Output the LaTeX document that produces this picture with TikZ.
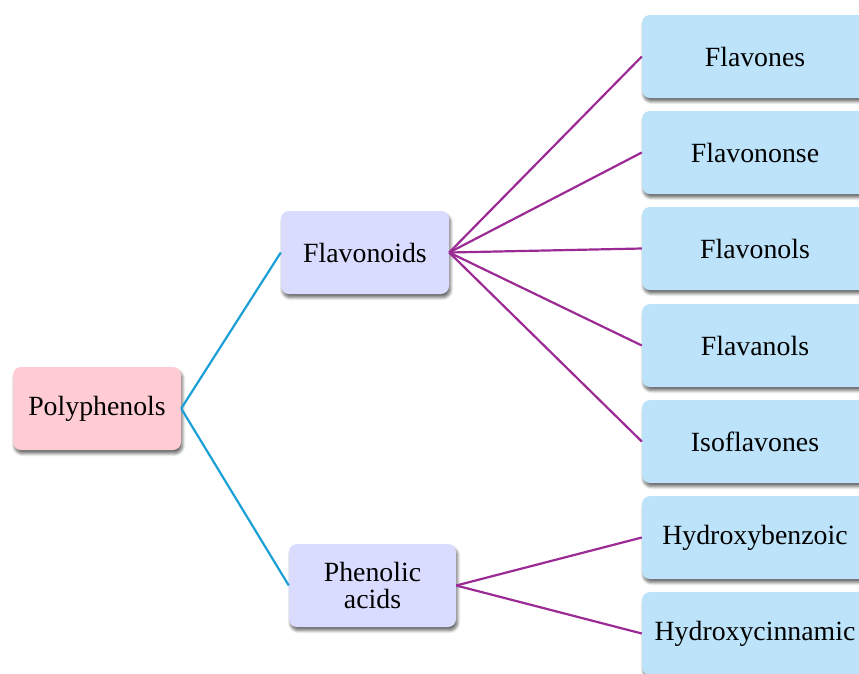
\documentclass[tikz,border=0pt]{standalone}
\usepackage{fontspec}
\setmainfont{Liberation Serif}
\usetikzlibrary{shadows.blur}
\definecolor{pinkfill}{HTML}{FFCCD3}
\definecolor{lavfill}{HTML}{D9DBFF}
\definecolor{bluefill}{HTML}{BDE3FB}
\definecolor{blueline}{HTML}{1A9FD6}
\definecolor{purpline}{HTML}{9B2A95}
\tikzset{
  box/.style={draw=none, rounded corners=8pt, minimum height=83pt, align=center,
    font=\fontsize{27.8}{30}\selectfont, inner sep=0pt,
    blur shadow={shadow xshift=1.5pt, shadow yshift=-3.5pt, shadow blur radius=3pt,
      shadow blur steps=6, shadow opacity=60}},
  rootbox/.style={box, fill=pinkfill, minimum width=168pt},
  midbox/.style={box, fill=lavfill, minimum width=168pt},
  leafbox/.style={box, fill=bluefill, minimum width=226pt},
  bline/.style={draw=blueline, line width=2.2pt},
  pline/.style={draw=purpline, line width=2.2pt},
}
\begin{document}
\begin{tikzpicture}[x=1pt,y=-1pt]
\useasboundingbox (0,0) rectangle (859,673);
\clip (0,0) rectangle (859,673);
\node[rootbox] (poly) at (97,408.5) {Polyphenols};
\node[midbox] (flav) at (365,252.5) {Flavonoids};
\node[midbox, minimum width=167pt] (phen) at (372.5,585.5) {Phenolic\\[-3pt]acids};
\node[leafbox] (l1) at (755,56.5) {Flavones};
\node[leafbox] (l2) at (755,152.5) {Flavononse};
\node[leafbox] (l3) at (755,248.5) {Flavonols};
\node[leafbox] (l4) at (755,345.5) {Flavanols};
\node[leafbox] (l5) at (755,441.5) {Isoflavones};
\node[leafbox] (l6) at (755,537.5) {Hydroxybenzoic};
\node[leafbox] (l7) at (755,633.5) {Hydroxycinnamic};
\draw[bline] (poly.east) -- (flav.west);
\draw[bline] (poly.east) -- (phen.west);
\foreach \n in {l1,l2,l3,l4,l5} \draw[pline] (flav.east) -- (\n.west);
\foreach \n in {l6,l7} \draw[pline] (phen.east) -- (\n.west);
\end{tikzpicture}
\end{document}
